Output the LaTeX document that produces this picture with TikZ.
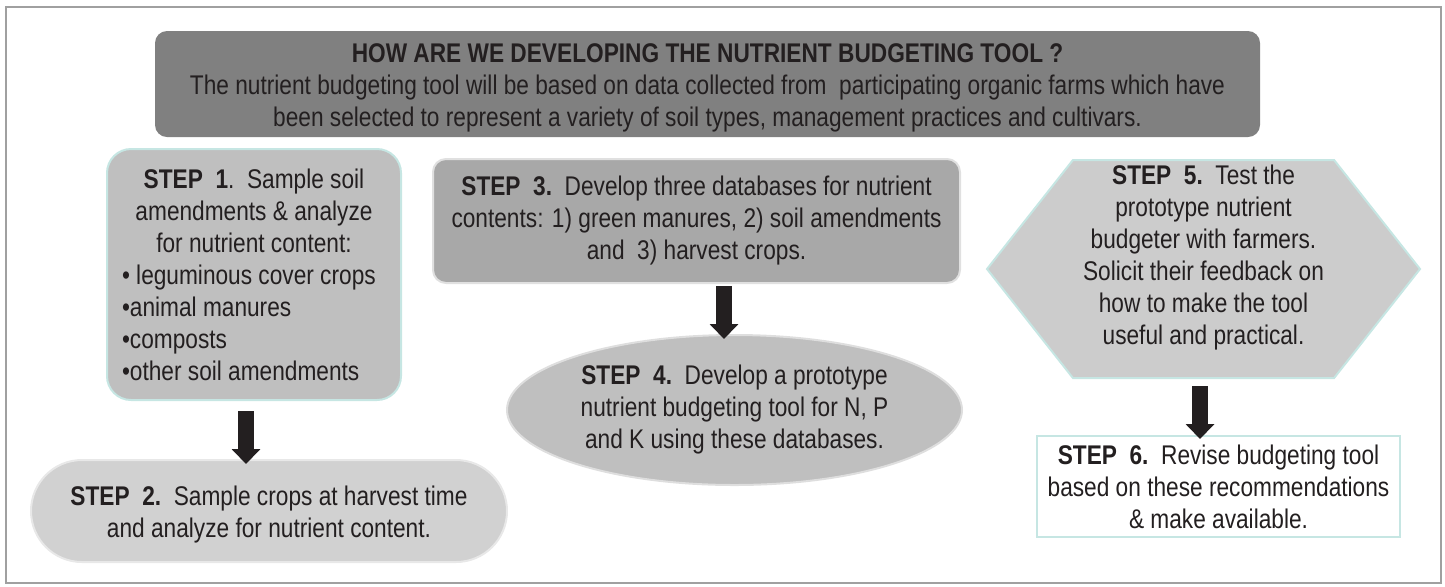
\documentclass[tikz,border=0pt]{standalone}
\usepackage{fontspec}
\setmainfont{Liberation Sans}[FakeStretch=0.84]
\usepackage{tikz}
\usetikzlibrary{shapes.geometric,shapes.misc,shapes.symbols,arrows.meta}
\definecolor{ink}{HTML}{231F20}
\definecolor{frameline}{HTML}{A0A0A0}
\definecolor{aqua}{HTML}{C6E6E3}
\tikzset{step node/.style={text=ink,align=center,inner sep=0pt,line width=1pt,
		font=\fontsize{13.5}{16}\selectfont},
	title node/.style={step node,fill=black!50,rounded corners=6pt,
		minimum width=552.5pt,minimum height=53pt},
	flow arrow/.style={draw=ink,line width=8pt,-{Triangle[width=14pt,length=7.5pt]}},
}

\begin{document}
\begin{tikzpicture}[x=0.5pt,y=-0.5pt]
			\useasboundingbox (0,0) rectangle (1445,586);
			\draw[frameline,line width=1pt] (6,7) rectangle (1441,583);
			
			%%
			\node[title node] (head) at (707.5,84)
			{\raisebox{-2pt}[\height][\depth]{\begin{tabular}{@{}c@{}}\textbf{HOW ARE WE DEVELOPING THE NUTRIENT BUDGETING TOOL ?}\\
				The nutrient budgeting tool will be based on data collected from\ \ participating organic farms which have\\
				been selected to represent a variety of soil types, management practices and cultivars.\end{tabular}}};
			
			\node[step node,draw=aqua,fill=black!25,rounded corners=12pt,
			minimum width=147pt,minimum height=125.5pt] (s1) at (254,274.5)
			{\parbox{132pt}{\centering \textbf{STEP\ \ 1}.\ \ Sample soil\\ amendments \& analyze\\ for nutrient content:\par
					\raggedright • leguminous cover crops\\ •animal manures\\ •composts\\ •other soil amendments}};
			\node[step node,rounded rectangle,draw=black!9,fill=black!18,
			minimum width=238pt,minimum height=51pt] (s2) at (269,511)
			{\raisebox{-2pt}[\height][\depth]{\begin{tabular}{@{}c@{}}\textbf{STEP\ \ 2.}\ \ Sample crops at harvest time\\ and analyze for nutrient content.\end{tabular}}};
			\node[step node,draw=black!12,fill=black!34,rounded corners=6.5pt,
			minimum width=263.5pt,minimum height=62pt] (s3) at (696.5,221)
			{\textbf{STEP\ \ 3.}\ \ Develop three databases for nutrient\\ contents: 1) green manures, 2) soil amendments\\ and\ \ 3) harvest crops.};
			\node[step node,ellipse,draw=black!13,fill=black!25,
			minimum width=227.5pt,minimum height=75pt] (s4) at (734.5,410)
			{\textbf{STEP\ \ 4.}\ \ Develop a prototype\\ nutrient budgeting tool for N, P\\ and K using these databases.};
			\node[step node,signal,signal to=east and west,signal pointer angle=103.5,
			draw=aqua,fill=black!20,minimum width=216.5pt,minimum height=109pt] (s5) at (1203.5,269)
			{\raisebox{5.5pt}[\height][\depth]{\begin{tabular}{@{}c@{}}\textbf{STEP\ \ 5.}\ \ Test the\\ prototype nutrient\\ budgeter with farmers.\\ Solicit their feedback on\\ how to make the tool\\ useful and practical.\end{tabular}}};
			\node[step node,draw=aqua,fill=white,
			minimum width=181.5pt,minimum height=50.5pt] (s6) at (1218.5,486.5)
			{\textbf{STEP\ \ 6.}\ \ Revise budgeting tool\\ based on these recommendations\\ \& make available.};
			
			\path
			([xshift=-4pt,yshift=-5pt]s1.south) edge[flow arrow] ([xshift=-4pt,yshift=-2.5pt]s1.south |- s2.north)
			([xshift=13.75pt,yshift=-1pt]s3.south) edge[flow arrow] ([xshift=13.75pt,yshift=-2.5pt]s3.south |- s4.north)
			([xshift=-1.75pt,yshift=-3.5pt]s5.south) edge[flow arrow] ([xshift=-1.75pt,yshift=-2pt]s5.south |- s6.north)
			;
\end{tikzpicture}
\end{document}
